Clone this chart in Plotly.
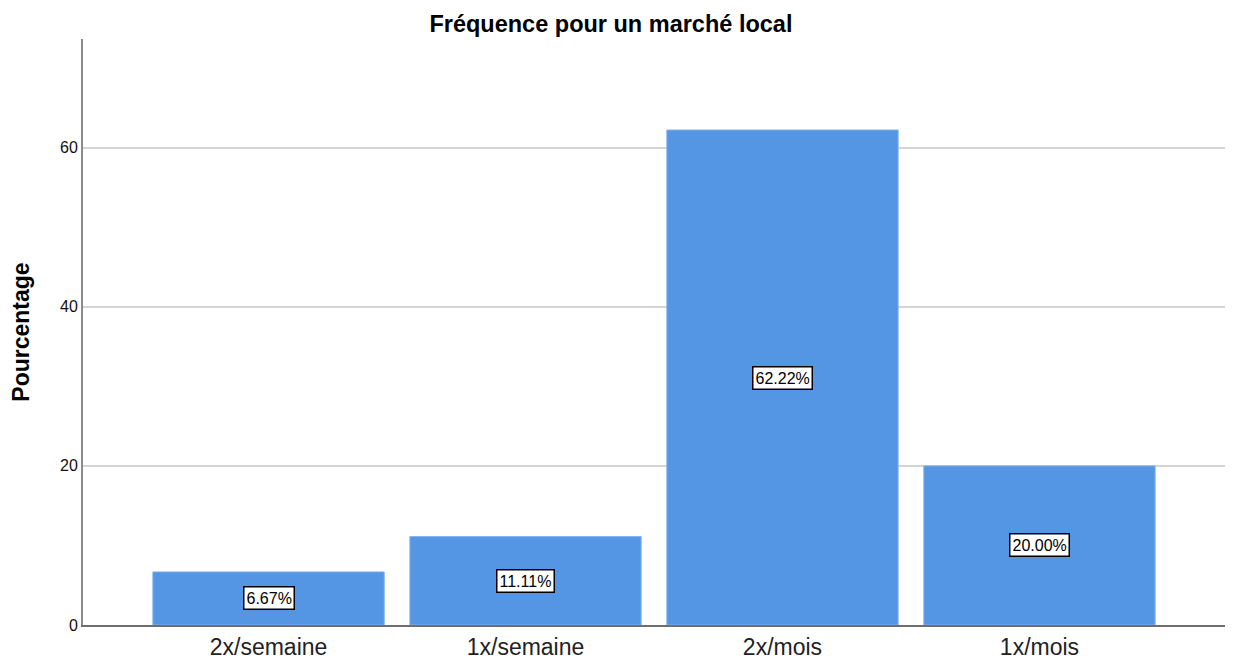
import plotly.graph_objects as go

categories = ["2x/semaine", "1x/semaine", "2x/mois", "1x/mois"]
values = [6.67, 11.11, 62.22, 20.00]
labels = ["6.67%", "11.11%", "62.22%", "20.00%"]

fig = go.Figure()
fig.add_trace(go.Bar(
    x=categories, y=values, width=0.9,
    marker=dict(color="#5596e4", line=dict(color="#7fb0ea", width=1)),
    hoverinfo="skip",
))

for c, v, t in zip(categories, values, labels):
    fig.add_annotation(
        x=c, y=v / 2, text=t, showarrow=False,
        font=dict(family="Liberation Sans, Arial", size=16, color="black"),
        bgcolor="white", bordercolor="black", borderwidth=1.5, borderpad=2,
    )

fig.update_layout(
    width=1233, height=664,
    paper_bgcolor="white", plot_bgcolor="white",
    margin=dict(l=69, r=16, t=31, b=43),
    showlegend=False,
    bargap=0.1,
    title=dict(text="<b>Fréquence pour un marché local</b>", x=0.489, xanchor="center",
               y=0.976, yanchor="middle",
               font=dict(family="Liberation Sans, Arial", size=23.5, color="black")),
    font=dict(family="Liberation Sans, Arial", color="black"),
)
fig.update_xaxes(
    range=[-0.722, 3.722], showgrid=False, showline=True,
    linecolor="#6e6e6e", linewidth=2, ticks="",
    tickfont=dict(size=23, color="#222"), zeroline=False,
)
fig.update_yaxes(
    range=[0, 73.66], tickvals=[0, 20, 40, 60], showgrid=True,
    gridcolor="#d4d4d4", gridwidth=2, showline=True, linecolor="#8a8a8a",
    linewidth=2, ticks="", zeroline=False,
    tickfont=dict(size=16, color="#111"),
    title=dict(text="<b>Pourcentage</b>", font=dict(size=23, color="black"), standoff=24),
)

fig.write_html("out.html")
